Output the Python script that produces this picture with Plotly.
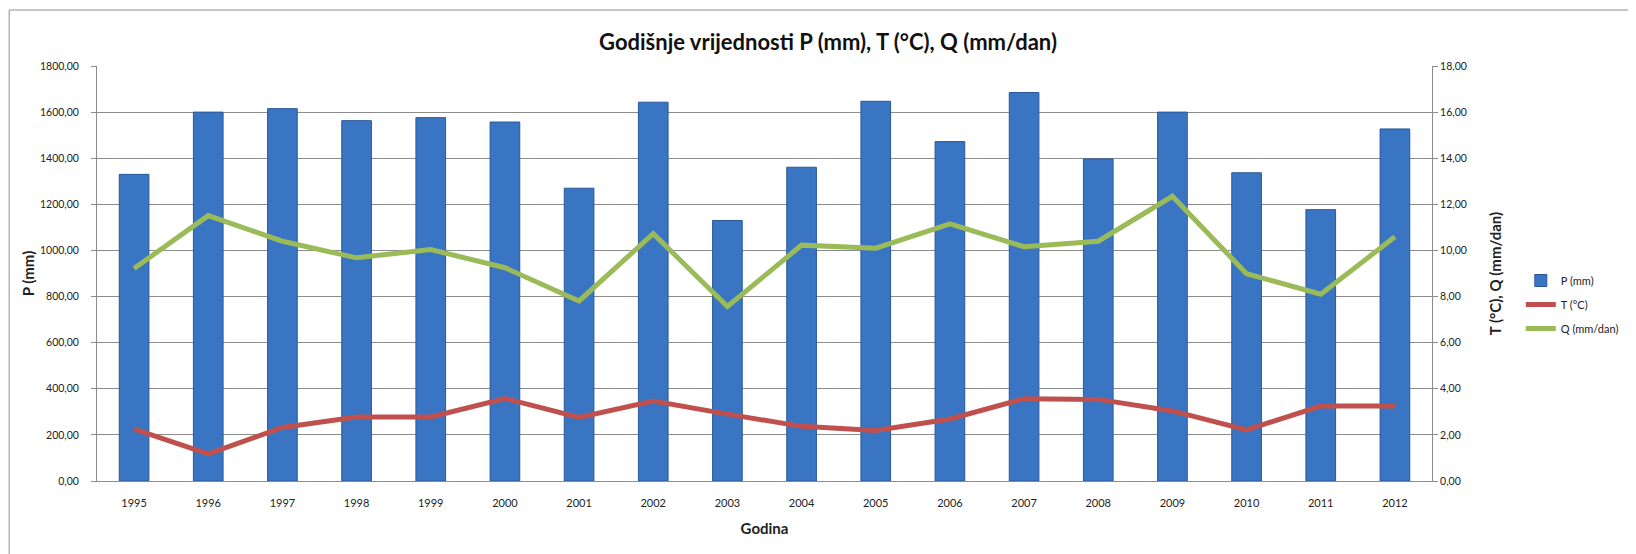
import plotly.graph_objects as go

years = [str(y) for y in range(1995, 2013)]
p_mm = [1330, 1600, 1615, 1563, 1576, 1557, 1270, 1643, 1130, 1361,
        1647, 1472, 1685, 1397, 1600, 1337, 1177, 1527]
t_c = [2.25, 1.18, 2.32, 2.78, 2.78, 3.58, 2.76, 3.47, 2.90, 2.37,
       2.19, 2.69, 3.57, 3.54, 3.04, 2.22, 3.25, 3.25]
q_mm_dan = [9.22, 11.51, 10.40, 9.68, 10.04, 9.25, 7.81, 10.73, 7.57, 10.23,
            10.10, 11.15, 10.16, 10.40, 12.35, 8.99, 8.10, 10.59]

# page body has an 8px margin; figure sized so it ends at the window edge
OFF = 8
W, H = 1636 - OFF, 554 - OFF
# plot area in screen pixels
X0, X1, Y0, Y1 = 97, 1450, 66, 481
L, R = X0 - OFF, W - (X1 - OFF)
T, B = Y0 - OFF, H - (Y1 - OFF)
pw, ph = X1 - X0, Y1 - Y0


def px(x):
    return (x - X0) / pw


def py(y):
    return (Y1 - y) / ph


FONT = "Lato, 'Open Sans', sans-serif"
GRID = "#8c8c8c"

fig = go.Figure()
fig.add_trace(go.Bar(
    x=years, y=p_mm, name="P (mm)",
    marker=dict(color="#3a75c4", line=dict(color="#2a5898", width=1)),
    legendgroup="p",
))
fig.add_trace(go.Scatter(
    x=years, y=t_c, name="T (°C)", yaxis="y2", mode="lines",
    line=dict(color="#c0504d", width=5), legendgroup="t",
))
fig.add_trace(go.Scatter(
    x=years, y=q_mm_dan, name="Q (mm/dan)", yaxis="y2", mode="lines",
    line=dict(color="#9bbb59", width=5), legendgroup="q",
))

fig.update_layout(
    width=W, height=H, autosize=False,
    margin=dict(l=L, r=R, t=T, b=B, pad=0),
    paper_bgcolor="white", plot_bgcolor="white",
    separators=", ",
    font=dict(family=FONT, size=11, color="#222"),
    bargap=0.6,
    title=dict(
        text="<b>Godišnje vrijednosti P (mm), T (°C), Q (mm/dan)</b>",
        x=(828 - OFF) / W, xanchor="center",
        y=1 - (42 - OFF) / H, yanchor="middle",
        font=dict(family=FONT, size=22, color="#111"),
    ),
    xaxis=dict(
        type="category", showgrid=False, automargin=False,
        ticks="outside", ticklen=12, tickcolor="rgba(0,0,0,0)",
        showline=True, linecolor=GRID, linewidth=1,
        tickfont=dict(size=11),
        title=dict(text="<b>Godina</b>", font=dict(size=15), standoff=15),
    ),
    yaxis=dict(
        range=[0, 1800], dtick=200, tickformat=".2f", automargin=False,
        showgrid=True, gridcolor=GRID, gridwidth=1,
        showline=True, linecolor=GRID, linewidth=1,
        ticks="outside", ticklen=5, tickcolor=GRID,
        ticklabelstandoff=10,
        tickfont=dict(size=10.5), zeroline=False,
        title=dict(text="<b>P (mm)</b>", font=dict(size=15), standoff=1),
    ),
    yaxis2=dict(
        range=[0, 18], dtick=2, tickformat=".2f", automargin=False,
        overlaying="y", side="right", showgrid=False,
        showline=True, linecolor=GRID, linewidth=1,
        ticks="outside", ticklen=5, tickcolor=GRID,
        tickfont=dict(size=10.5), zeroline=False,
        title=dict(text="<b>T (°C), Q (mm/dan)</b>", font=dict(size=15), standoff=24),
    ),
    legend=dict(
        x=px(1540), y=py(266), xanchor="left", yanchor="top",
        font=dict(size=11), itemwidth=30, tracegroupgap=5,
        bgcolor="rgba(0,0,0,0)",
    ),
    shapes=[dict(
        type="rect", xref="paper", yref="paper",
        x0=px(8), x1=px(1660), y0=py(580), y1=py(10),
        line=dict(color="#8f8f8f", width=1), fillcolor="rgba(0,0,0,0)",
        layer="below",
    )],
)

fig.write_html("out.html")
